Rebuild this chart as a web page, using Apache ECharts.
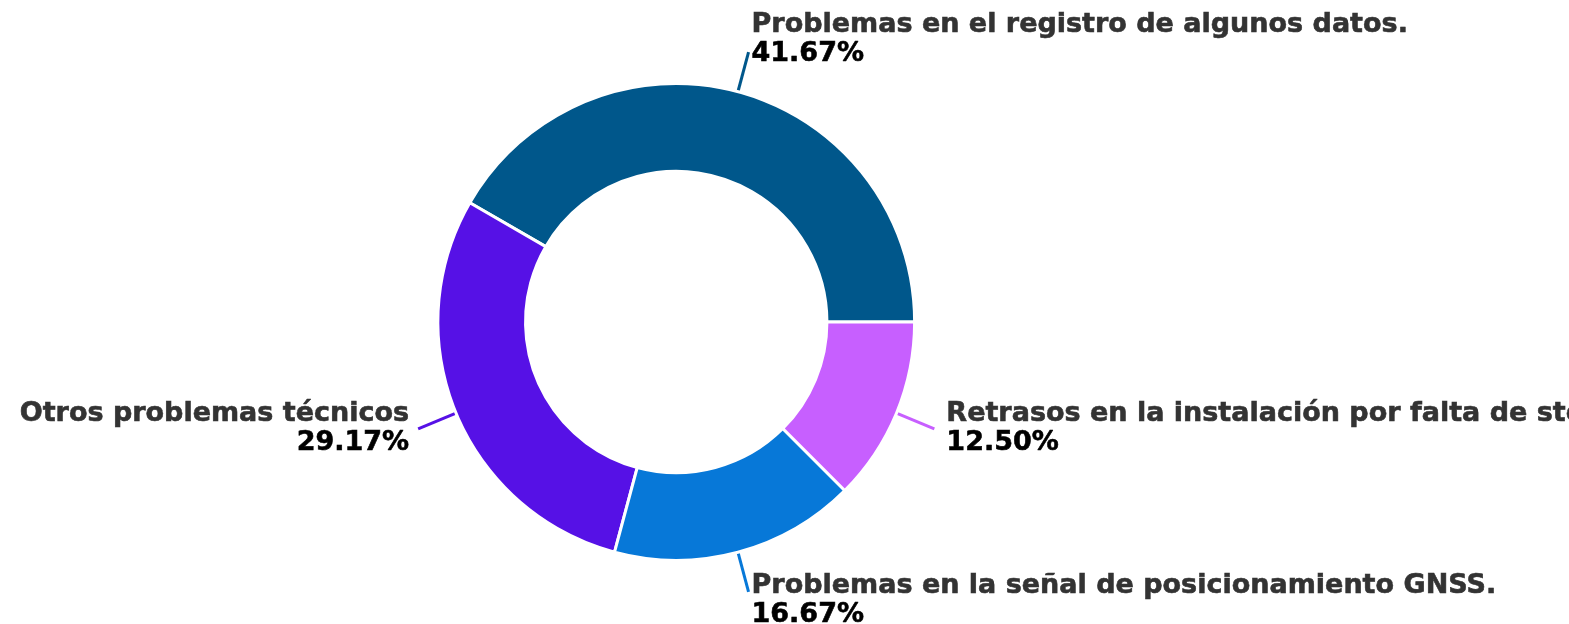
<!DOCTYPE html>
<html>
<head>
<meta charset="utf-8">
<script src="https://cdn.jsdelivr.net/npm/echarts@6/dist/echarts.min.js"></script>
<style>
  html, body { margin: 0; padding: 0; background: #fff; }
  #main { width: 1569px; height: 624px; }
</style>
</head>
<body>
<div id="main"></div>
<script>
// data (counts out of 24 -> 41.67 / 29.17 / 16.67 / 12.50 %)
const categories = [
    'Problemas en el registro de algunos datos.',
    'Otros problemas técnicos',
    'Problemas en la señal de posicionamiento GNSS.',
    'Retrasos en la instalación por falta de stock'
]
const values = [10, 7, 4, 3]
const colors = ['#00578b', '#5611e6', '#0778d8', '#c75fff']
// extra label padding per slice (top / left / bottom / right labels)
const labelPads = [[0, 0, 26, 3], [0, 9, 0, 0], [18, 0, 0, 3], [0, 0, 0, 12]]

const total = values.reduce((a, b) => a + b, 0)

const myChart = echarts.init(document.getElementById('main'))

const option = {
    animation: false,
    color: colors,
    series: [{
        type: 'pie',
        center: ['43.1%', '51.6%'],
        radius: ['48.3%', '76.4%'],
        startAngle: 0,
        clockwise: false,
        avoidLabelOverlap: false,
        itemStyle: {
            borderColor: '#fff',
            borderWidth: 3
        },
        label: {
            show: true,
            overflow: 'none',
            distanceToLabelLine: 0,
            formatter: function (p) {
                return '{n|' + p.name + '}\n{v|' + (p.value / total * 100).toFixed(2) + '%}'
            },
            rich: {
                n: {
                    fontFamily: 'DejaVu Sans',
                    fontWeight: 'bold',
                    fontSize: 27,
                    color: '#333',
                    textBorderColor: '#333',
                    textBorderWidth: 0.6,
                    lineHeight: 29
                },
                v: {
                    fontFamily: 'DejaVu Sans',
                    fontWeight: 'bold',
                    fontSize: 27,
                    color: '#000',
                    textBorderColor: '#000',
                    textBorderWidth: 0.6,
                    lineHeight: 29
                }
            }
        },
        labelLine: {
            show: true,
            length: 41,
            length2: 0,
            lineStyle: { width: 3 }
        },
        data: categories.map((name, i) => ({
            name: name,
            value: values[i],
            label: { padding: labelPads[i] }
        }))
    }]
}

myChart.setOption(option)
</script>
</body>
</html>
